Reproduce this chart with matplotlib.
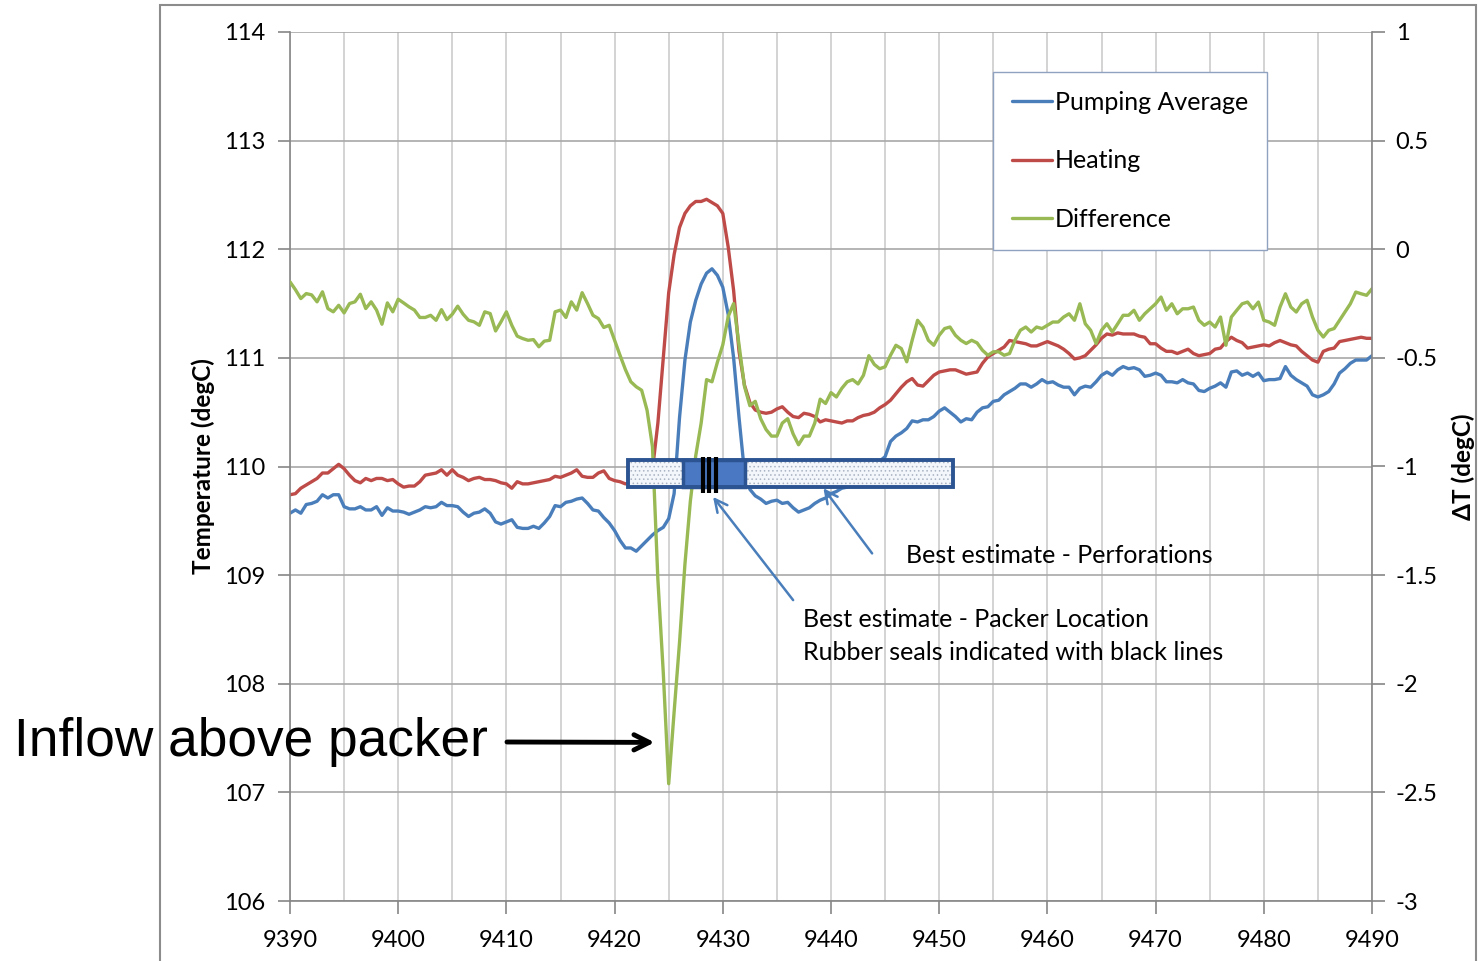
import numpy as np
import matplotlib
matplotlib.use("Agg")
import matplotlib.pyplot as plt
from matplotlib.patches import Rectangle

plt.rcParams['font.family'] = ['Lato', 'DejaVu Sans']
plt.rcParams['hatch.linewidth'] = 0.6

# depth axis (m), 0.5 m sampling
depth = np.arange(9390, 9490.5, 0.5)

pumping_avg = [
    109.57, 109.60, 109.57, 109.65, 109.66, 109.68, 109.74, 109.71, 109.74, 109.74,
    109.63, 109.61, 109.61, 109.63, 109.60, 109.60, 109.63, 109.55, 109.62, 109.59,
    109.59, 109.58, 109.56, 109.58, 109.60, 109.63, 109.62, 109.63, 109.67, 109.64,
    109.64, 109.63, 109.58, 109.54, 109.57, 109.58, 109.61, 109.57, 109.49, 109.47,
    109.49, 109.51, 109.44, 109.43, 109.43, 109.45, 109.43, 109.48, 109.54, 109.64,
    109.63, 109.67, 109.68, 109.70, 109.71, 109.66, 109.60, 109.59, 109.53, 109.48,
    109.41, 109.32, 109.25, 109.25, 109.22, 109.27, 109.32, 109.37, 109.41, 109.44,
    109.52, 109.75, 110.45, 110.98, 111.33, 111.53, 111.68, 111.78, 111.82, 111.76,
    111.65, 111.40, 111.00, 110.45, 109.95, 109.79, 109.73, 109.70, 109.66, 109.68,
    109.69, 109.66, 109.67, 109.62, 109.58, 109.60, 109.62, 109.66, 109.69, 109.71,
    109.75, 109.77, 109.80, 109.81, 109.84, 109.87, 109.90, 109.95, 110.00, 110.05,
    110.09, 110.23, 110.28, 110.31, 110.35, 110.42, 110.41, 110.43, 110.43, 110.46,
    110.51, 110.54, 110.50, 110.46, 110.41, 110.44, 110.43, 110.50, 110.54, 110.55,
    110.60, 110.61, 110.66, 110.69, 110.72, 110.76, 110.76, 110.73, 110.76, 110.80,
    110.77, 110.78, 110.75, 110.73, 110.73, 110.66, 110.72, 110.74, 110.73, 110.78,
    110.84, 110.87, 110.84, 110.89, 110.92, 110.90, 110.91, 110.89, 110.83, 110.84,
    110.86, 110.84, 110.78, 110.78, 110.77, 110.80, 110.77, 110.76, 110.70, 110.69,
    110.72, 110.74, 110.77, 110.73, 110.87, 110.88, 110.84, 110.86, 110.83, 110.86,
    110.79, 110.80, 110.80, 110.81, 110.92, 110.84, 110.80, 110.77, 110.74, 110.66,
    110.64, 110.66, 110.69, 110.76, 110.86, 110.90, 110.95, 110.98, 110.98, 110.98,
    111.02,
]

heating = [
    109.74, 109.75, 109.80, 109.83, 109.86, 109.89, 109.94, 109.94, 109.98, 110.02,
    109.98, 109.92, 109.87, 109.85, 109.89, 109.87, 109.89, 109.89, 109.87, 109.88,
    109.84, 109.81, 109.82, 109.82, 109.86, 109.92, 109.93, 109.94, 109.97, 109.92,
    109.97, 109.92, 109.90, 109.87, 109.89, 109.90, 109.88, 109.88, 109.87, 109.85,
    109.84, 109.80, 109.86, 109.84, 109.84, 109.85, 109.86, 109.87, 109.88, 109.91,
    109.90, 109.92, 109.94, 109.97, 109.91, 109.90, 109.90, 109.94, 109.96, 109.89,
    109.87, 109.86, 109.84, 109.85, 109.86, 109.88, 109.90, 109.97, 110.40, 111.00,
    111.60, 111.95, 112.20, 112.33, 112.40, 112.44, 112.44, 112.46, 112.43, 112.40,
    112.33, 112.02, 111.62, 111.06, 110.75, 110.59, 110.52, 110.50, 110.49, 110.50,
    110.53, 110.55, 110.50, 110.46, 110.45, 110.49, 110.48, 110.46, 110.41, 110.43,
    110.42, 110.41, 110.40, 110.42, 110.42, 110.45, 110.47, 110.48, 110.50, 110.54,
    110.57, 110.61, 110.67, 110.73, 110.78, 110.81, 110.75, 110.74, 110.79, 110.84,
    110.87, 110.88, 110.89, 110.89, 110.87, 110.85, 110.86, 110.87, 110.95, 111.01,
    111.04, 111.07, 111.10, 111.16, 111.15, 111.14, 111.13, 111.11, 111.11, 111.13,
    111.15, 111.13, 111.11, 111.08, 111.04, 110.99, 111.00, 111.02, 111.07, 111.12,
    111.18, 111.22, 111.21, 111.23, 111.22, 111.22, 111.22, 111.20, 111.19, 111.13,
    111.13, 111.09, 111.06, 111.06, 111.04, 111.06, 111.08, 111.04, 111.02, 111.03,
    111.04, 111.08, 111.09, 111.15, 111.19, 111.16, 111.14, 111.09, 111.10, 111.11,
    111.12, 111.11, 111.14, 111.16, 111.14, 111.12, 111.11, 111.06, 111.02, 110.98,
    110.96, 111.06, 111.08, 111.09, 111.15, 111.16, 111.17, 111.18, 111.19, 111.18,
    111.18,
]

difference = [
    -0.150, -0.186, -0.227, -0.204, -0.210, -0.242, -0.196, -0.273, -0.288, -0.258,
    -0.293, -0.250, -0.242, -0.207, -0.273, -0.242, -0.280, -0.345, -0.247, -0.288,
    -0.230, -0.247, -0.265, -0.280, -0.314, -0.314, -0.304, -0.327, -0.278, -0.324,
    -0.299, -0.262, -0.299, -0.327, -0.334, -0.350, -0.288, -0.296, -0.376, -0.334,
    -0.288, -0.350, -0.400, -0.411, -0.419, -0.416, -0.449, -0.423, -0.419, -0.288,
    -0.280, -0.314, -0.242, -0.280, -0.200, -0.250, -0.304, -0.319, -0.360, -0.350,
    -0.419, -0.488, -0.554, -0.610, -0.633, -0.649, -0.741, -0.909, -1.520, -1.950,
    -2.460, -2.130, -1.810, -1.450, -1.160, -0.950, -0.800, -0.600, -0.610, -0.520,
    -0.440, -0.310, -0.250, -0.440, -0.630, -0.720, -0.700, -0.780, -0.830, -0.860,
    -0.860, -0.800, -0.780, -0.850, -0.900, -0.860, -0.860, -0.800, -0.690, -0.710,
    -0.660, -0.680, -0.640, -0.610, -0.600, -0.620, -0.580, -0.490, -0.530, -0.550,
    -0.541, -0.488, -0.442, -0.457, -0.518, -0.419, -0.327, -0.358, -0.419, -0.442,
    -0.396, -0.365, -0.358, -0.396, -0.419, -0.434, -0.419, -0.431, -0.465, -0.488,
    -0.472, -0.472, -0.488, -0.480, -0.419, -0.373, -0.358, -0.381, -0.358, -0.365,
    -0.350, -0.335, -0.335, -0.312, -0.297, -0.327, -0.251, -0.343, -0.373, -0.434,
    -0.373, -0.343, -0.381, -0.343, -0.304, -0.304, -0.281, -0.327, -0.297, -0.274,
    -0.251, -0.220, -0.281, -0.251, -0.297, -0.274, -0.274, -0.266, -0.327, -0.350,
    -0.335, -0.358, -0.312, -0.442, -0.312, -0.281, -0.251, -0.243, -0.274, -0.243,
    -0.327, -0.335, -0.350, -0.266, -0.205, -0.266, -0.289, -0.251, -0.235, -0.312,
    -0.373, -0.404, -0.373, -0.365, -0.327, -0.289, -0.251, -0.197, -0.205, -0.212,
    -0.182,
]

# packer sketch (depths in m, temperature band in degC)
packer_top, packer_bottom = 9421.25, 9451.3
packer_body = (9426.3, 9432.05)
seal_depths = [9428.17, 9428.72, 9429.37]
box_low, box_high = 109.81, 110.06

blue, red, green = '#4a7ebb', '#be4b48', '#98b954'
grey = '#868686'

fig = plt.figure(figsize=(14.78, 9.61), dpi=100)
ax = fig.add_axes([290/1478, 60/961, 1082/1478, 869/961])
ax2 = ax.twinx()

l1, = ax.plot(depth, pumping_avg, color=blue, lw=2.4, solid_capstyle='round')
l2, = ax.plot(depth, heating, color=red, lw=2.4, solid_capstyle='round')
l3, = ax2.plot(depth, difference, color=green, lw=2.4, solid_capstyle='round')

ax.set_xlim(9390, 9490)
ax.set_ylim(106, 114)
ax2.set_ylim(-3, 1)
ax.set_xticks(np.arange(9390, 9491, 10))
ax.set_xticks(np.arange(9395, 9490, 10), minor=True)
ax.set_yticks(np.arange(106, 114.5, 1))
ax2.set_yticks(np.arange(-3, 1.1, 0.5))
ax2.set_yticklabels(['-3', '-2.5', '-2', '-1.5', '-1', '-0.5', '0', '0.5', '1'])

ax.grid(axis='x', which='both', color='#cccccc', lw=1.2)
ax.grid(axis='y', which='major', color='#a8a8a8', lw=1.2)
ax.set_axisbelow(True)

ax.tick_params(axis='both', which='major', direction='out', length=9, width=1.2,
               color=grey, labelsize=17)
ax.tick_params(axis='y', pad=9)
ax.tick_params(axis='x', pad=12)
ax.tick_params(axis='x', which='minor', length=0)
ax2.tick_params(axis='y', direction='out', length=9, width=1.2, color=grey,
                labelsize=17, pad=8)

for s in ['top', 'right']:
    ax.spines[s].set_visible(False)
for s in ['top', 'left', 'bottom']:
    ax2.spines[s].set_visible(False)
for sp in [ax.spines['left'], ax.spines['bottom'], ax2.spines['right']]:
    sp.set_color(grey)
    sp.set_linewidth(1.2)

ax.set_ylabel('Temperature (degC)', fontsize=17.5, fontweight='bold',
              va='center', ha='center')
ax.yaxis.set_label_coords((203 - 290) / 1082, 0.5)
ax2.set_ylabel('ΔT (degC)', fontsize=17.5, fontweight='bold', va='center', ha='center')
ax2.yaxis.set_label_coords((1463 - 290) / 1082, (961 - 467 - 60) / 869)

# packer sketch drawn over the curves
tr = ax.transData
ax2.add_patch(Rectangle((packer_top, box_low), packer_bottom - packer_top, box_high - box_low,
                        transform=tr, facecolor='#f3f6fb', edgecolor='#a9b3c2', hatch='....',
                        lw=0, zorder=5))
ax2.add_patch(Rectangle((packer_body[0], box_low), packer_body[1] - packer_body[0],
                        box_high - box_low, transform=tr, facecolor='#4a78c2',
                        edgecolor='#2c5492', lw=2.5, zorder=6))
ax2.add_patch(Rectangle((packer_top, box_low), packer_bottom - packer_top, box_high - box_low,
                        transform=tr, facecolor='none', edgecolor='#2c5492', lw=2.8, zorder=7))
for d in seal_depths:
    ax2.plot([d, d], [box_low - 0.05, box_high + 0.03], color='black', lw=3,
             transform=tr, zorder=8, solid_capstyle='butt')

arrow_kw = dict(arrowstyle='->,head_length=0.9,head_width=0.45', color=blue, lw=1.8,
                shrinkA=0, shrinkB=0)
ax2.annotate('', xy=(9439.3, 109.80), xycoords=tr, xytext=(9443.8, 109.20),
             textcoords=tr, arrowprops=arrow_kw, zorder=9)
ax2.annotate('', xy=(9429.1, 109.72), xycoords=tr, xytext=(9436.5, 108.77),
             textcoords=tr, arrowprops=arrow_kw, zorder=9)

ax2.text(9446.9, 109.18, 'Best estimate - Perforations', transform=tr, fontsize=18,
         va='center', ha='left', zorder=9)
ax2.text(9437.4, 108.59, 'Best estimate - Packer Location', transform=tr, fontsize=18,
         va='center', ha='left', zorder=9)
ax2.text(9437.4, 108.29, 'Rubber seals indicated with black lines', transform=tr,
         fontsize=18, va='center', ha='left', zorder=9)

leg = ax2.legend([l1, l2, l3], ['Pumping Average', 'Heating', 'Difference'],
                 loc='upper left', bbox_to_anchor=(993/1478, (961-72)/961),
                 bbox_transform=fig.transFigure, borderaxespad=0, fontsize=18,
                 handlelength=1.6, handletextpad=0.12, labelspacing=1.42,
                 borderpad=0.75, fancybox=False, framealpha=1)
leg.get_frame().set_edgecolor('#8fa2c0')
leg.get_frame().set_linewidth(1.0)
leg.set_zorder(10)

# outer chart frame
fig.patches.append(Rectangle((160/1478, -0.01), (1476-160)/1478, (961-5)/961 + 0.01,
                             transform=fig.transFigure, facecolor='none',
                             edgecolor='#8c8c8c', lw=1.5, zorder=0))

fig.text(14/1478, (961-742)/961, 'Inflow above packer', fontsize=38.3,
         family='Liberation Sans', va='center', ha='left', zorder=20)
ax2.annotate('', xy=(9423.7, 107.46), xycoords=tr, xytext=(507/1478, (961-742)/961),
             textcoords='figure fraction',
             arrowprops=dict(arrowstyle='->,head_length=1.1,head_width=0.55', color='black',
                             lw=3.5, shrinkA=0, shrinkB=0), annotation_clip=False, zorder=20)

fig.savefig('out.png', dpi=100)
